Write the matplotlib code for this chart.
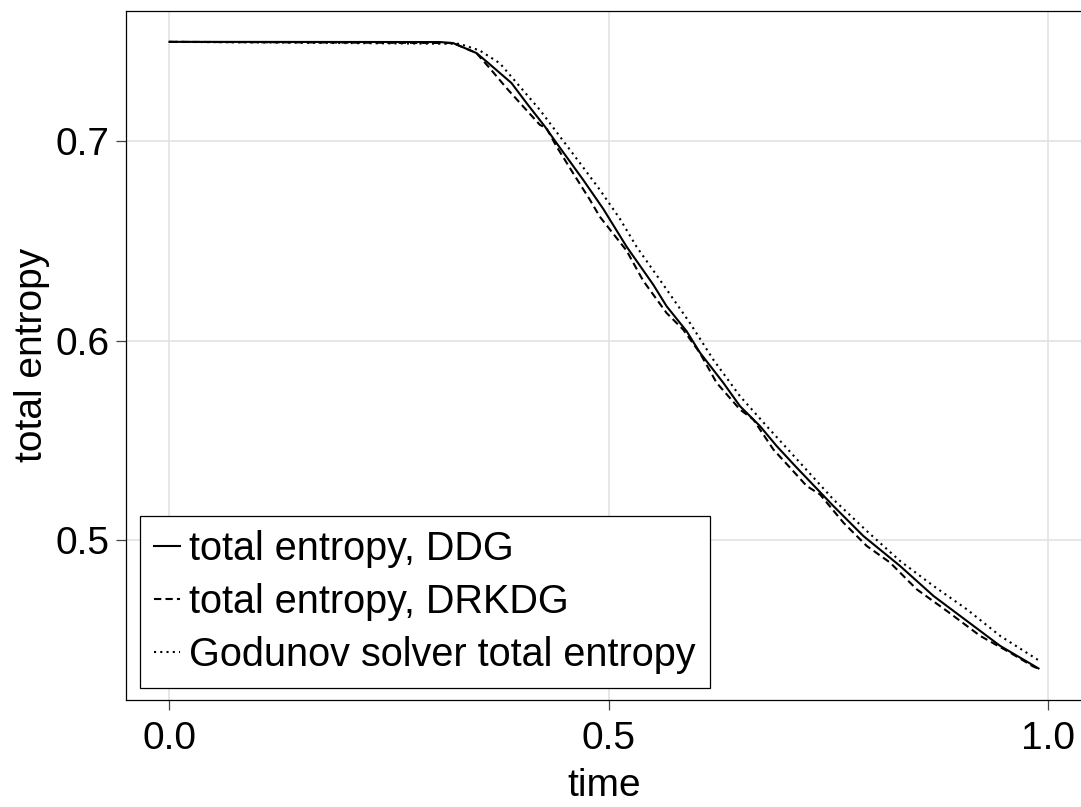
import matplotlib
matplotlib.use("Agg")
import matplotlib.pyplot as plt

plt.rcParams['font.family'] = ['Liberation Sans', 'DejaVu Sans']
plt.rcParams['font.size'] = 28

# total entropy over time
t_ddg = [0.0, 0.3075, 0.3227, 0.3493, 0.3607, 0.3892, 0.4063, 0.4271, 0.4404, 0.4707,
         0.4935, 0.5202, 0.5505, 0.5657, 0.5885, 0.6036, 0.6302, 0.6492, 0.6720, 0.6910,
         0.7138, 0.7555, 0.7896, 0.8314, 0.8694, 0.9074, 0.9453, 0.9890]
s_ddg = [0.7495, 0.7494, 0.7489, 0.7439, 0.7397, 0.7289, 0.7189, 0.7072, 0.6989, 0.6805,
         0.6660, 0.6470, 0.6280, 0.6172, 0.6047, 0.5940, 0.5789, 0.5672, 0.5572, 0.5472,
         0.5364, 0.5172, 0.5022, 0.4872, 0.4722, 0.4597, 0.4472, 0.4359]

t_drkdg = [0.0, 0.3227, 0.3493, 0.3645, 0.3835, 0.4024, 0.4214, 0.4290, 0.4404, 0.4593,
           0.4784, 0.4897, 0.5202, 0.5390, 0.5657, 0.5846, 0.6036, 0.6226, 0.6492, 0.6644,
           0.6872, 0.7062, 0.7252, 0.7403, 0.7669, 0.7935, 0.8200, 0.8504, 0.8846, 0.9226,
           0.9567, 0.9833, 0.9890]
s_drkdg = [0.7495, 0.7489, 0.7439, 0.7363, 0.7264, 0.7172, 0.7080, 0.7063, 0.6972, 0.6838,
           0.6705, 0.6620, 0.6450, 0.6300, 0.6138, 0.6055, 0.5938, 0.5789, 0.5655, 0.5605,
           0.5455, 0.5364, 0.5272, 0.5230, 0.5089, 0.4972, 0.4889, 0.4755, 0.4647, 0.4522,
           0.4438, 0.4368, 0.4358]

t_godunov = [0.0, 0.3300, 0.3530, 0.3759, 0.3986, 0.4214, 0.4442, 0.4670, 0.4897, 0.5125,
             0.5315, 0.5619, 0.5923, 0.6188, 0.6492, 0.6796, 0.7175, 0.7555, 0.7935, 0.8314,
             0.8694, 0.9074, 0.9453, 0.9890]
s_godunov = [0.7495, 0.7485, 0.7452, 0.7388, 0.7272, 0.7155, 0.7022, 0.6889, 0.6755, 0.6610,
             0.6470, 0.6280, 0.6088, 0.5905, 0.5722, 0.5572, 0.5389, 0.5205, 0.5047, 0.4897,
             0.4772, 0.4655, 0.4522, 0.4400]

fig = plt.figure(figsize=(10.81, 8.07), dpi=100)
ax = fig.add_axes([126 / 1081, 1 - 700 / 807, 956 / 1081, 689.5 / 807])

ax.plot(t_ddg, s_ddg, color='black', lw=1.5, label='total entropy, DDG')
ax.plot(t_drkdg, s_drkdg, color='black', lw=1.5, linestyle=(0, (3.5, 2)),
        label='total entropy, DRKDG')
ax.plot(t_godunov, s_godunov, color='black', lw=1.5, linestyle=(0, (1, 2)),
        label='Godunov solver total entropy')

ax.margins(x=0.05, y=0.05)
ax.set_xticks([0.0, 0.5, 1.0])
ax.set_yticks([0.5, 0.6, 0.7])
ax.set_axisbelow(True)
ax.tick_params(direction='out', length=7, width=0.9, color='#444444', pad=8,
               grid_color='#e0e0e0', grid_linewidth=1.1)
ax.tick_params(axis='y', pad=5)
ax.grid(True)
for sp in ax.spines.values():
    sp.set_linewidth(0.9)

ax.set_xlabel('time', labelpad=8)
ax.set_ylabel('total entropy', labelpad=4)

leg = ax.legend(loc='lower left', bbox_to_anchor=(14 / 956, 12 / 689.5), borderaxespad=0,
                fancybox=False, edgecolor='black', framealpha=1, handlelength=0.67,
                handletextpad=0.23, borderpad=0.35, labelspacing=0.38, fontsize=28.5)
leg.get_frame().set_linewidth(0.9)

fig.savefig('out.png', dpi=100)
